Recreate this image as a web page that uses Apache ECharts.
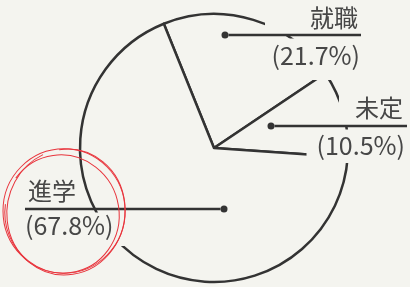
<!DOCTYPE html>
<html>
<head>
<meta charset="utf-8">
<script src="https://cdn.jsdelivr.net/npm/echarts@6/dist/echarts.min.js"></script>
<style>
  html, body { margin: 0; background: #f4f4ef; }
  #main { width: 410px; height: 287px; }
</style>
</head>
<body>
<div id="main"></div>
<script>
var names = ['就職', '未定', '進学'];
var shares = [21.7, 10.5, 67.8];

var bg = '#f4f4ef';
var ink = '#333';
var txt = '#474747';
var red = '#e8343c';
var font = '"Noto Sans CJK JP", "Noto Sans", sans-serif';

// label placement: edge = x where the text lines end, hr = y of the leader line
var labelAt = [
    {edge: 361, hr: 35, align: 'right', l1: 30},
    {edge: 407, hr: 126, align: 'right', l1: 30},
    {edge: 25, hr: 209, align: 'left', l1: 29}
];

function nameStyle(lh, pad, mask) {
    var s = {fontSize: 24, fontFamily: font, color: txt, lineHeight: lh, padding: pad};
    if (mask) s.backgroundColor = bg;
    return s;
}
function pctStyle(lh, pad) {
    return {fontSize: 25, fontFamily: font, color: txt, lineHeight: lh, padding: pad, backgroundColor: bg};
}
function hrStyle(w) {
    return {width: w, height: 0, lineHeight: 7, borderColor: ink, borderWidth: 2.5};
}

var rich = {
    n0: nameStyle(30, [8, 3, 6, 45], true),
    p0: pctStyle(41.5, [4, 1, 12.5, 4]),
    h0: hrStyle(132.5),
    n1: nameStyle(30, [6, 4, 5, 16], true),
    p1: pctStyle(33.5, [3, 2, 5.5, 10]),
    h1: hrStyle(132.5),
    n2: nameStyle(29, [0, 0, 0, 3], false),
    p2: pctStyle(33.5, [0.5, 13, 8, 0]),
    h2: hrStyle(195.5),
    dot: {width: 7, height: 7, lineHeight: 7, borderRadius: 3.5, backgroundColor: ink}
};

// hand-drawn red ring around the 進学 label
function ring(x, y, r, sy, rot, a0, a1) {
    return {
        type: 'arc', z: 100, x: x, y: y, scaleY: sy, rotation: rot,
        shape: {cx: 0, cy: 0, r: r, startAngle: a0, endAngle: a1},
        style: {fill: null, stroke: red, lineWidth: 1}
    };
}

var chart = echarts.init(document.getElementById('main'));
chart.setOption({
    backgroundColor: bg,
    animation: false,
    series: [{
        type: 'pie',
        center: [214, 148],
        radius: 134,
        startAngle: 112,
        silent: true,
        itemStyle: {color: bg, borderColor: ink, borderWidth: 2.5},
        label: {
            show: true,
            position: 'inside',
            rich: rich,
            formatter: function (p) {
                var i = p.dataIndex;
                var mid = labelAt[i].align === 'right' ? '{dot|}{h' + i + '|}' : '{h' + i + '|}{dot|}';
                return '{n' + i + '|' + p.name + '}\n' + mid + '\n{p' + i + '|(' + p.value + '%)}';
            }
        },
        labelLine: {show: false},
        labelLayout: function (p) {
            var a = labelAt[p.dataIndex];
            return {x: a.edge, y: a.hr - 3.5 - a.l1, align: a.align, verticalAlign: 'top'};
        },
        data: names.map(function (n, i) { return {name: n, value: shares[i]}; })
    }],
    graphic: [
        ring(64, 211, 61, 1.02, 0, 0, Math.PI * 2),
        ring(62, 214, 57, 1.04, 0.3, -2.2, 3.6),
        ring(66, 212, 59, 1.07, -0.2, -1.9, 4.1)
    ]
});
</script>
</body>
</html>
